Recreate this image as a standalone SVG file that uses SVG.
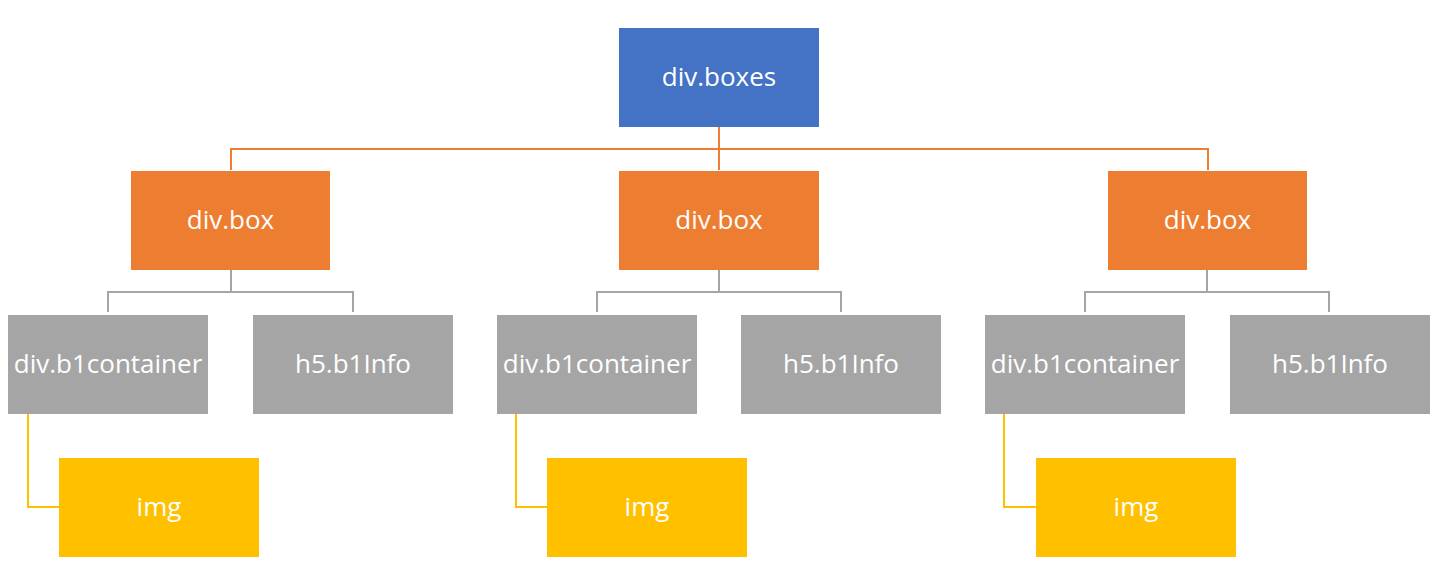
<svg xmlns="http://www.w3.org/2000/svg" width="1438" height="582" viewBox="0 0 1438 582">
<style>
.t{font-family:"Open Sans","Liberation Sans",sans-serif;font-size:26px;fill:#ffffff;text-anchor:middle}
.blue{fill:#4472C4}.orange{fill:#ED7D31}.grey{fill:#A5A5A5}.yellow{fill:#FFC000}
.co{stroke:#ED7D31;stroke-width:2;fill:none}
.cg{stroke:#A5A5A5;stroke-width:2;fill:none}
.cy{stroke:#FFC000;stroke-width:2;fill:none}
</style>
<rect width="1438" height="582" fill="#ffffff"/>
<g id="connectors">
<path class="co" d="M719 127V149M231 170V149H1208V170M719 149V170"/>
<path class="cg" d="M231 270V292M108 312V292H353V312"/>
<path class="cg" d="M719 270V292M597 312V292H841V312"/>
<path class="cg" d="M1207 270V292M1085 312V292H1329V312"/>
<path class="cy" d="M28 414V507H59"/>
<path class="cy" d="M516 414V507H547"/>
<path class="cy" d="M1004 414V507H1036"/>
</g>
<g id="root"><rect class="blue" x="619" y="28" width="200" height="99"/><text class="t" x="719" y="86">div.boxes</text></g>
<g id="box1"><rect class="orange" x="131" y="171" width="199" height="99"/><text class="t" x="230.5" y="229">div.box</text></g>
<g id="box2"><rect class="orange" x="619" y="171" width="200" height="99"/><text class="t" x="719" y="229">div.box</text></g>
<g id="box3"><rect class="orange" x="1108" y="171" width="199" height="99"/><text class="t" x="1207.5" y="229">div.box</text></g>
<g id="cont1"><rect class="grey" x="8" y="315" width="200" height="99"/><text class="t" x="108" y="373">div.b1container</text></g>
<g id="info1"><rect class="grey" x="253" y="315" width="200" height="99"/><text class="t" x="353" y="373">h5.b1Info</text></g>
<g id="cont2"><rect class="grey" x="497" y="315" width="200" height="99"/><text class="t" x="597" y="373">div.b1container</text></g>
<g id="info2"><rect class="grey" x="741" y="315" width="200" height="99"/><text class="t" x="841" y="373">h5.b1Info</text></g>
<g id="cont3"><rect class="grey" x="985" y="315" width="200" height="99"/><text class="t" x="1085" y="373">div.b1container</text></g>
<g id="info3"><rect class="grey" x="1230" y="315" width="200" height="99"/><text class="t" x="1330" y="373">h5.b1Info</text></g>
<g id="img1"><rect class="yellow" x="59" y="458" width="200" height="99"/><text class="t" x="159" y="516">img</text></g>
<g id="img2"><rect class="yellow" x="547" y="458" width="200" height="99"/><text class="t" x="647" y="516">img</text></g>
<g id="img3"><rect class="yellow" x="1036" y="458" width="200" height="99"/><text class="t" x="1136" y="516">img</text></g>
</svg>
